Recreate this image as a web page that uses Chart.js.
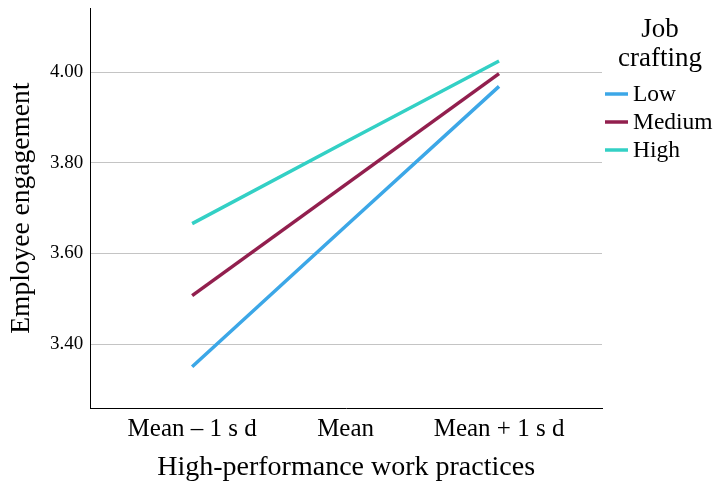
<!DOCTYPE html>
<html>
<head>
<meta charset="utf-8">
<script src="https://cdn.jsdelivr.net/npm/chart.js@4.4.0/dist/chart.umd.min.js"></script>
<style>
  html, body { margin: 0; padding: 0; background: #fff; }
  #wrap { width: 716px; height: 484px; }
</style>
</head>
<body>
<div id="wrap"><canvas id="chart" width="716" height="484"></canvas></div>
<script>
const categories = ['Mean \u2013 1 s d', 'Mean', 'Mean + 1 s d'];
const yTicks = [3.40, 3.60, 3.80, 4.00];
const lowValues = [3.350, 3.660, 3.969];
const mediumValues = [3.507, 3.752, 3.997];
const highValues = [3.666, 3.846, 4.025];
const seriesNames = ['Low', 'Medium', 'High'];
const seriesColors = ['#3ca7e7', '#921f4e', '#33d0c5'];
const legendTitle = ['Job', 'crafting'];

const serif = "'Liberation Serif', 'Times New Roman', serif";

function toPoints(values) {
  return values.map((v, i) => ({ x: i, y: v }));
}

const datasets = [lowValues, mediumValues, highValues].map((vals, i) => ({
  label: seriesNames[i],
  data: toPoints(vals),
  borderColor: seriesColors[i],
  backgroundColor: seriesColors[i],
  borderWidth: 3.5,
  pointRadius: 0,
  fill: false,
  tension: 0
}));

// legend drawn by hand: the built-in one forces a wide gap between swatch and text
const sideLegend = {
  id: 'sideLegend',
  afterDraw(chart) {
    const ctx = chart.ctx;
    const x0 = chart.chartArea.right + 3;
    ctx.save();
    ctx.fillStyle = '#000';
    ctx.textBaseline = 'middle';
    ctx.textAlign = 'center';
    ctx.font = `27px ${serif}`;
    legendTitle.forEach((line, i) => ctx.fillText(line, x0 + 55, 30 + i * 29));
    ctx.textAlign = 'left';
    ctx.font = `23.5px ${serif}`;
    chart.data.datasets.forEach((ds, i) => {
      const y = 94 + i * 28;
      ctx.strokeStyle = ds.borderColor;
      ctx.lineWidth = 3.5;
      ctx.beginPath();
      ctx.moveTo(x0, y);
      ctx.lineTo(x0 + 23, y);
      ctx.stroke();
      ctx.fillText(ds.label, x0 + 28, y + 1);
    });
    ctx.restore();
  }
};

new Chart(document.getElementById('chart').getContext('2d'), {
  type: 'line',
  data: { datasets: datasets },
  plugins: [sideLegend],
  options: {
    responsive: false,
    animation: false,
    layout: { padding: { top: 8, right: 114, bottom: 0, left: 2 } },
    plugins: {
      tooltip: { enabled: false },
      legend: { display: false }
    },
    scales: {
      x: {
        type: 'linear',
        min: -0.664,
        max: 2.671,
        afterBuildTicks: axis => { axis.ticks = categories.map((c, i) => ({ value: i })); },
        grid: { display: false, drawTicks: false },
        border: { display: true, color: '#000', width: 1 },
        ticks: {
          color: '#000',
          font: { family: serif, size: 25 },
          padding: 6,
          maxRotation: 0,
          autoSkip: false,
          callback: v => categories[v]
        },
        title: {
          display: true,
          text: 'High-performance work practices',
          color: '#000',
          font: { family: serif, size: 28 },
          padding: { top: 0, bottom: 0 }
        }
      },
      y: {
        min: 3.258,
        max: 4.142,
        afterBuildTicks: axis => { axis.ticks = yTicks.map(v => ({ value: v })); },
        // tick labels sit well inside the axis, so no room is needed above it
        afterFit: axis => { axis.paddingTop = 0; },
        grid: { color: '#c4c4c4', lineWidth: 1, drawTicks: false },
        border: { display: true, color: '#000', width: 1 },
        ticks: {
          color: '#000',
          font: { family: serif, size: 19 },
          padding: 7,
          callback: v => v.toFixed(2)
        },
        title: {
          display: true,
          text: 'Employee engagement',
          color: '#000',
          font: { family: serif, size: 27.5 },
          padding: { top: 3, bottom: 5 }
        }
      }
    }
  }
});
</script>
</body>
</html>
